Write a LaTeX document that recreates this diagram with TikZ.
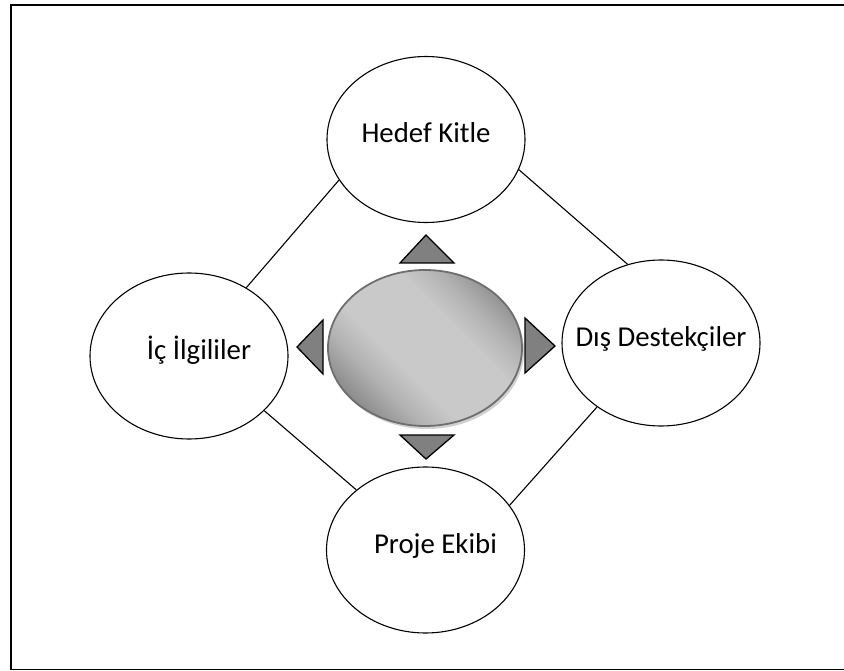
\documentclass[tikz,border=0pt]{standalone}
\usepackage{fontspec}
\setmainfont{Carlito}
\usetikzlibrary{shapes.geometric,shadows}

% ortadaki elipsin gri degradesi
\pgfdeclarehorizontalshading{merkezgri}{100bp}{color(0bp)=(black!55); color(22bp)=(black!50);
    color(34bp)=(black!30); color(42bp)=(black!21); color(60bp)=(black!21);
    color(68bp)=(black!30); color(80bp)=(black!50); color(100bp)=(black!55)}

\begin{document}
\begin{tikzpicture}[x=1pt, y=-1pt,
    paydas/.style={draw, ellipse, line width=1.1pt, minimum width=198pt, minimum height=166pt, inner sep=0pt},
    yazi/.style={inner sep=0pt, text height=7pt, text depth=0pt, font=\fontsize{28.8}{34}\selectfont},
    merkez/.style={ellipse, draw=black!57, line width=1.8pt, minimum width=194pt, minimum height=156pt,
        shading=merkezgri, shading angle=45,
        drop shadow={shadow xshift=2pt, shadow yshift=-3pt, fill=black!30, opacity=0.6}},
    ok/.style={fill=black!50, draw=black, line width=1.3pt, line join=miter},
    link/.style={line width=1.1pt}]

    \useasboundingbox (0,0) rectangle (844,671);

    % çerçeve
    \draw[line width=1.6pt] (844,5) -- (11,5) -- (11,669.5) -- (844,669.5);

    % ortadaki gri elips
    \node[merkez] (hub) at (425,348) {};

    % paydaşlar
    \node[paydas] (hk) at (426,139.5) {};
    \node[paydas] (ii) at (189,356) {};
    \node[paydas] (dd) at (661,343) {};
    \node[paydas] (pe) at (425.5,550) {};

    \node[yazi] (hk-yazi) at (hk) {Hedef Kitle};
    \node[yazi] (ii-yazi) at ([xshift=10pt]ii) {İç İlgililer};
    \node[yazi] (dd-yazi) at (dd) {Dış Destekçiler};
    \node[yazi] (pe-yazi) at ([xshift=10pt]pe) {Proje Ekibi};

    % dış bağlantılar
    \draw[link] (hk.205) -- (ii.50);
    \draw[link] (hk.342) -- (dd.113);
    \draw[link] (ii.324) -- (pe.139);
    \draw[link] (dd.225) -- (pe.28);

    % dört yöne oklar
    \draw[ok] (400,263) -- (426,235) -- (454,263) -- cycle;
    \draw[ok] (400,435) -- (454,435) -- (426,459) -- cycle;
    \draw[ok] (323,320) -- (297,347) -- (323,374) -- cycle;
    \draw[ok] (525,318) -- (555,346) -- (525,373) -- cycle;

\end{tikzpicture}
\end{document}
